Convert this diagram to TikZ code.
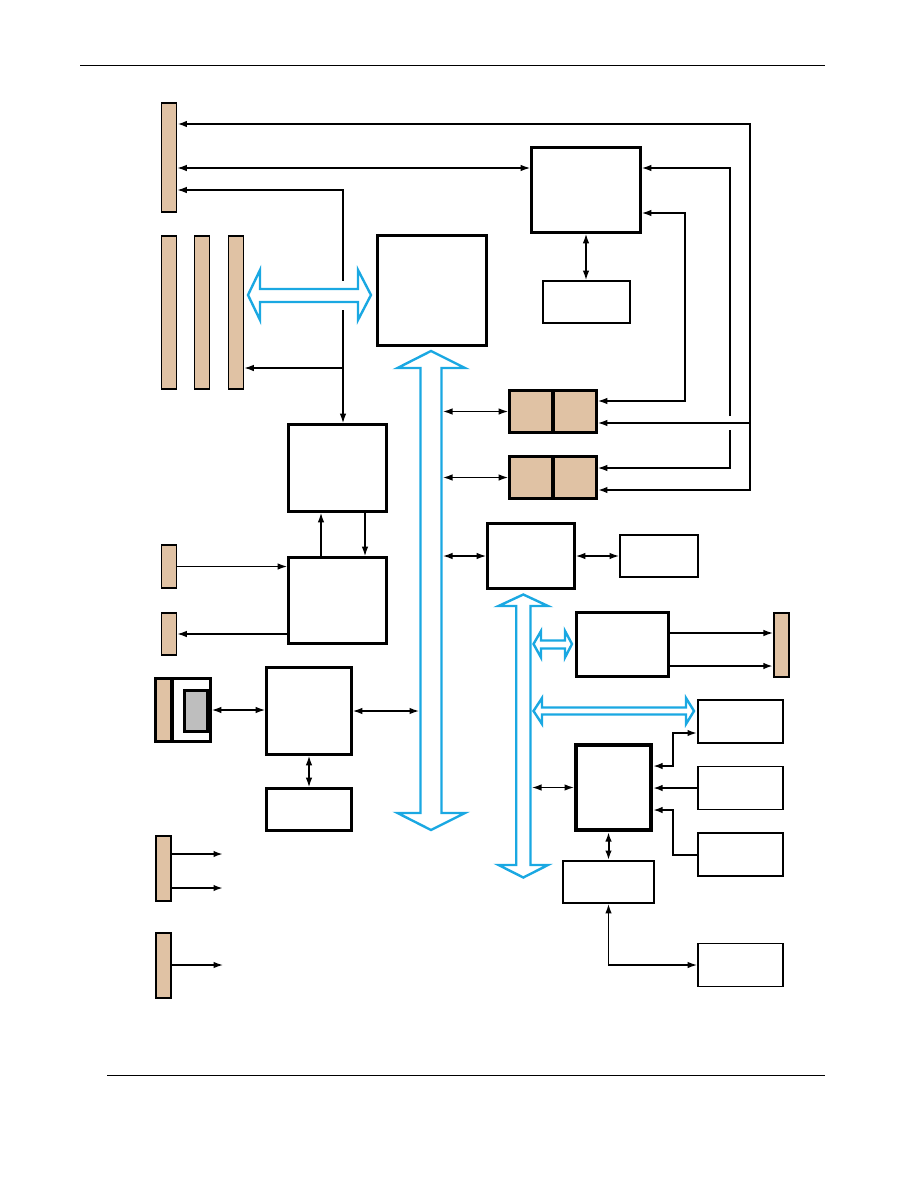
\documentclass[tikz,border=0pt]{standalone}
\usepackage{tikz}
\usetikzlibrary{positioning,arrows.meta}
\definecolor{slottan}{RGB}{224,194,164}
\definecolor{busblue}{RGB}{26,168,226}
\definecolor{chipgray}{RGB}{190,190,190}

\begin{document}
\begin{tikzpicture}[x=1pt,y=-1pt,>={Latex[length=9.5pt,width=6.5pt]},
  box/.style={draw,line width=3.2pt,fill=white,inner sep=0pt},
  thinbox/.style={draw,line width=1.9pt,fill=white,inner sep=0pt},
  slot/.style={draw,line width=1.6pt,fill=slottan,inner sep=0pt},
  bus/.style={draw=busblue,line width=2.4pt,fill=white},
  link/.style={line width=1.3pt},
  fatlink/.style={line width=2pt}]
\useasboundingbox (0,0) rectangle (918,1188);
\draw[line width=1pt] (80,66) -- (825,66);
\draw[line width=1pt] (107,1075) -- (825,1075);

% connectors and slots on the left
\node[slot,minimum width=15pt,minimum height=109pt] (conA) at (169,157.5) {};
\node[slot,minimum width=15pt,minimum height=153pt] (slot1) at (169,312.5) {};
\node[slot,minimum width=15pt,minimum height=153pt] (slot2) at (202,312.5) {};
\node[slot,minimum width=15pt,minimum height=153pt] (slot3) at (236,312.5) {};
\node[slot,minimum width=15pt,minimum height=43pt] (con2) at (169,566.5) {};
\node[slot,minimum width=15pt,minimum height=42pt] (con3) at (169,634) {};
\node[slot,minimum width=15.5pt,minimum height=65.5pt] (con5) at (163.5,868.5) {};
\node[slot,minimum width=15.5pt,minimum height=65.5pt] (con6) at (163.5,965.5) {};
\node[box,minimum width=54.5pt,minimum height=62.5pt] (dock) at (183,710) {};
\draw[box,fill=slottan] (155.6,678.6) rectangle (172,741.4);
\node[box,fill=chipgray,minimum width=23pt,minimum height=41pt] (chip) at (196,711) {};

% main blocks
\node[box,minimum width=108.5pt,minimum height=109.5pt] (cpu) at (432,290.5) {};
\node[box,minimum width=108.5pt,minimum height=84.5pt] (tr) at (586,190) {};
\node[thinbox,minimum width=87pt,minimum height=42pt] (trs) at (586.5,302) {};
\node[box,fill=slottan,minimum width=86.5pt,minimum height=41.5pt] (tanA) at (553,411.5) {};
\node[box,fill=slottan,minimum width=86.5pt,minimum height=41.5pt] (tanB) at (553,477.5) {};
\draw[line width=3.2pt] (tanA.north) -- (tanA.south);
\draw[line width=3.2pt] (tanB.north) -- (tanB.south);
\node[box,minimum width=97.5pt,minimum height=86.5pt] (nb) at (337.5,468) {};
\node[box,minimum width=97.5pt,minimum height=85.5pt] (nb2) at (337.5,600.5) {};
\node[box,minimum width=84.5pt,minimum height=86.5pt] (io) at (309,711) {};
\node[box,minimum width=84.5pt,minimum height=41.5pt] (io2) at (309,809.5) {};
\node[box,minimum width=86.5pt,minimum height=64.5pt] (mid) at (531,556) {};
\node[thinbox,minimum width=78pt,minimum height=42pt] (mids) at (659,556) {};
\node[box,minimum width=91.5pt,minimum height=63.5pt] (vid) at (622.5,644.5) {};
\node[slot,minimum width=15.5pt,minimum height=64.5pt] (con4) at (781.5,645) {};
\node[box,line width=4pt,minimum width=75pt,minimum height=85pt] (sb) at (613.5,787.5) {};
\node[thinbox,minimum width=91pt,minimum height=42pt] (sbs) at (608.5,882) {};
\node[thinbox,minimum width=85pt,minimum height=43pt] (rb1) at (740.5,721.5) {};
\node[thinbox,minimum width=85pt,minimum height=43pt] (rb2) at (740.5,788) {};
\node[thinbox,minimum width=85pt,minimum height=43pt] (rb3) at (740.5,854.5) {};
\node[thinbox,minimum width=85pt,minimum height=43pt] (rb4) at (740.5,965) {};

% points for the lines
\coordinate (rail) at (750,124);
\coordinate (gapT) at (730,416);
\coordinate (gapB) at (730,430);
\coordinate (jA) at (343,190);
\coordinate (cut1) at (343,281);
\coordinate (cut2) at (343,310);
\coordinate (jB) at (343,368);
\coordinate (busL) at (419,0);
\coordinate (busR) at (443,0);
\coordinate (busBR) at (532,0);
\coordinate (e1) at (223,854);
\coordinate (e2) at (223,888);
\coordinate (e3) at (223,965);

% upper lines
\draw[fatlink,<->] (conA.east |- rail) -- (rail) -- (rail |- 0,490) -- (tanB.east |- 0,490);
\draw[link,->] (rail |- 0,423) -- (tanA.east |- 0,423);
\draw[link,->] (gapT) -- (gapT |- 0,168) -- (tr.east |- 0,168);
\draw[link,->] (gapB) -- (gapB |- 0,468) -- (tanB.east |- 0,468);
\draw[link,<->] (tr.east |- 0,213) -- (685,213) -- (685,401) -- (tanA.east |- 0,401);
\draw[link,<->] (conA.east |- 0,168) -- (tr.west |- 0,168);
\draw[link,<->] (tr.south) -- (tr.south |- trs.north);
\draw[link,<-] (conA.east |- jA) -- (jA) -- (cut1);
\draw[link,->] (cut2) -- (cut2 |- nb.north);
\draw[link,->] (jB) -- (slot3.east |- jB);

% middle lines
\draw[link,<->] (busR |- tanA.west) -- (tanA.west);
\draw[link,<->] (busR |- tanB.west) -- (tanB.west);
\draw[link,<->] (busR |- mid.west) -- (mid.west);
\draw[link,<->] (mid.east) -- (mids.west);
\draw[link,->] (nb2.north -| 321,0) -- (nb.south -| 321,0);
\draw[link,->] (nb.south -| 365,0) -- (nb2.north -| 365,0);
\draw[link,->] (con2.east) -- (nb2.west |- con2.east);
\draw[link,->] (nb2.west |- con3.east) -- (con3.east);
\draw[link,<->] (dock.east) -- (io.west |- dock.east);
\draw[link,<->] (io.east) -- (busL |- io.east);
\draw[link,<->] (io.south) -- (io2.north);

% right lower lines
\draw[link,->] (vid.east |- 0,633) -- (con4.west |- 0,633);
\draw[fatlink,->] (vid.east |- 0,666) -- (con4.west |- 0,666);
\draw[link,<->] (busBR |- sb.west) -- (sb.west);
\draw[fatlink,<->] (sb.east |- 0,766) -- (673,766) -- (673,733) -- (rb1.west |- 0,733);
\draw[fatlink,->] (rb2.west) -- (sb.east |- rb2.west);
\draw[fatlink,->] (rb3.west) -- (673,854.5) -- (673,810) -- (sb.east |- 0,810);
\draw[fatlink,<->] (sbs.north |- sb.south) -- (sbs.north);
\draw[link,<->] (sbs.south) -- (sbs.south |- rb4.west) -- (rb4.west);

% lower left
\draw[fatlink,->] (con5.east |- e1) -- (e1);
\draw[fatlink,->] (con5.east |- e2) -- (e2);
\draw[link,->] (con6.east |- e3) -- (e3);

% buses
\draw[bus] (248,295) -- (260,270) -- (260,289) -- (358,289) -- (358,270) -- (371,295) -- (358,320) -- (358,302) -- (260,302) -- (260,320) -- cycle;
\draw[bus] (431,351) -- (465,368) -- (441.5,368) -- (441.5,813) -- (465,813) -- (431,830) -- (397.5,813) -- (420.5,813) -- (420.5,368) -- (397.5,368) -- cycle;
\draw[bus] (523.3,594.5) -- (548,606) -- (530.5,606) -- (530.5,865) -- (548,865) -- (523.3,877.5) -- (498.5,865) -- (516.2,865) -- (516.2,606) -- (498.5,606) -- cycle;
\draw[bus] (533.5,644) -- (541,631) -- (541,640.5) -- (565,640.5) -- (565,631) -- (572,644) -- (565,657.5) -- (565,648.5) -- (541,648.5) -- (541,657.5) -- cycle;
\draw[bus] (533.5,711) -- (542,698) -- (542,707.5) -- (686,707.5) -- (686,698) -- (694,711) -- (686,724) -- (686,714.5) -- (542,714.5) -- (542,724) -- cycle;
\end{tikzpicture}
\end{document}
